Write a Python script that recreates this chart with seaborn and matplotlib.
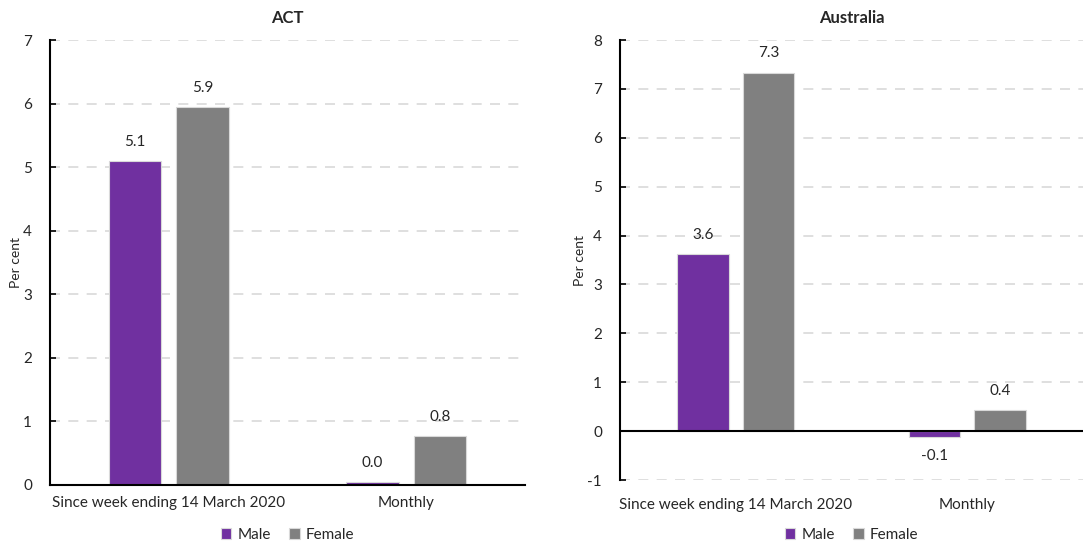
import pandas as pd
import seaborn as sns
from matplotlib import pyplot as plt

# Data
categories = ["Since week ending 14 March 2020", "Monthly"]
act_male = [5.09, 0.04]
act_female = [5.94, 0.77]
aus_male = [3.62, -0.12]
aus_female = [7.33, 0.43]

purple = "#7030A0"
grey = "#808080"

sns.set_theme(style="white")
plt.rcParams['font.family'] = ['Lato', 'DejaVu Sans']


def make_frame(male, female):
    return pd.DataFrame({
        'category': categories * 2,
        'sex': ['Male'] * 2 + ['Female'] * 2,
        'value': male + female,
    })


def draw(ax, df, title, ylim, ticks, zero_line, xpad):
    sns.barplot(data=df, x='category', y='value', hue='sex', order=categories,
                hue_order=['Male', 'Female'], palette=[purple, grey], saturation=1,
                width=0.567, gap=0.22, edgecolor='#d9d9d9', linewidth=0.8, ax=ax)
    ax.set_ylim(*ylim)
    ax.set_yticks(ticks)
    ax.set_yticklabels([str(t) for t in ticks], fontsize=11, color='#262626')
    ax.set_xlim(-0.5, 1.5)
    ax.tick_params(axis='x', length=0, labelsize=11, labelcolor='#262626', pad=xpad)
    ax.tick_params(axis='y', direction='in', length=4, width=1.2, color='black', pad=13, left=True)
    ax.yaxis.grid(True, linestyle=(0, (6, 5)), color='#d9d9d9', linewidth=1.2)
    ax.set_axisbelow(True)
    for s in ['top', 'right']:
        ax.spines[s].set_visible(False)
    ax.spines['left'].set_color('black')
    ax.spines['left'].set_linewidth(1.5)
    if zero_line:
        ax.spines['bottom'].set_visible(False)
        ax.axhline(0, color='black', linewidth=1.5, zorder=3)
    else:
        ax.spines['bottom'].set_color('black')
        ax.spines['bottom'].set_linewidth(1.5)
    ax.set_xlabel('')
    ax.set_ylabel('Per cent', fontsize=10, color='#262626', labelpad=1)
    ax.set_title(title, fontsize=12, fontweight='bold', pad=12)
    for cont in ax.containers:
        labels = [f"{v:.1f}" if abs(v) >= 0.05 else "0.0" for v in cont.datavalues]
        ax.bar_label(cont, labels=labels, padding=9, fontsize=11, color='#262626')
    box = ax.get_position()
    ax.legend(loc='center', bbox_to_anchor=((box.x0 + box.x1) / 2, 1 - 535 / 546),
              bbox_transform=ax.figure.transFigure, ncol=2, frameon=False,
              fontsize=11, handlelength=0.7, handleheight=0.7, handletextpad=0.4,
              columnspacing=1.2)


fig = plt.figure(figsize=(10.83, 5.46), dpi=100)
ax1 = fig.add_axes([50 / 1083, 61 / 546, 475 / 1083, 445 / 546])
ax2 = fig.add_axes([620 / 1083, 66 / 546, 463 / 1083, 440 / 546])

draw(ax1, make_frame(act_male, act_female), 'ACT', (0, 7), list(range(0, 8)), False, 8)
draw(ax2, make_frame(aus_male, aus_female), 'Australia', (-1, 8), list(range(-1, 9)), True, 13)

fig.savefig('out.png', dpi=100)
